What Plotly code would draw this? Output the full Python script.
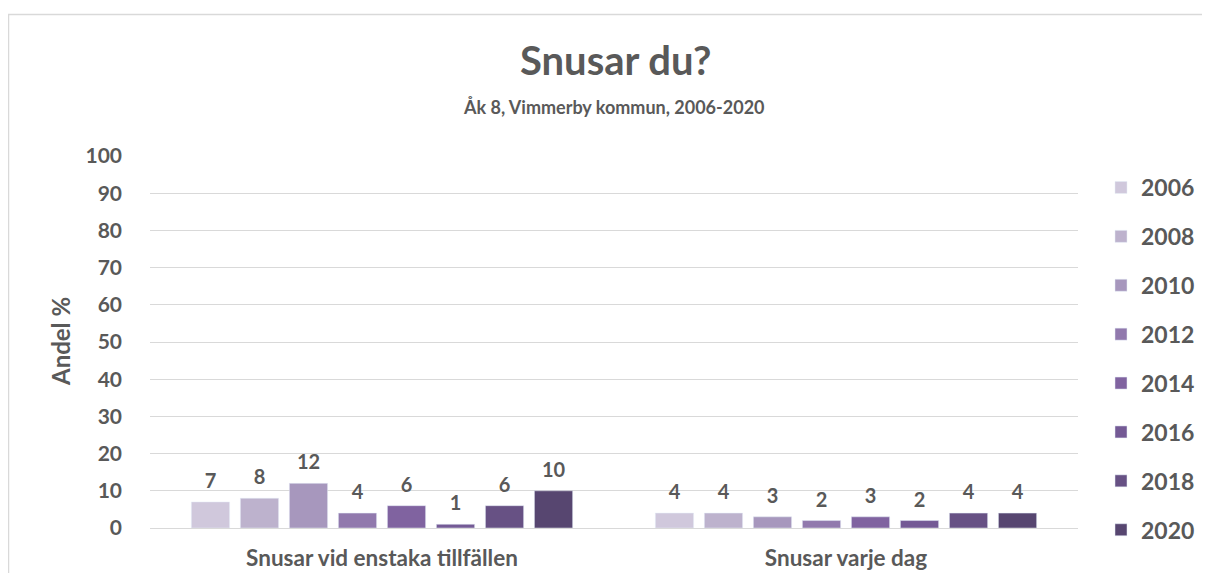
import plotly.graph_objects as go

categories = ["Snusar vid enstaka tillfällen", "Snusar varje dag"]
years = ["2006", "2008", "2010", "2012", "2014", "2016", "2018", "2020"]
values = {
    "2006": [7, 4],
    "2008": [8, 4],
    "2010": [12, 3],
    "2012": [4, 2],
    "2014": [6, 3],
    "2016": [1, 2],
    "2018": [6, 4],
    "2020": [10, 4],
}
colors = ["#d0c8dc", "#bdb2cd", "#a797bd", "#9179ad", "#8063a0", "#745a95", "#675184", "#574670"]
yticks = [0, 10, 20, 30, 40, 50, 60, 70, 80, 90, 100]

FONT = "Lato"
GREY = "#595959"
OFF = 8  # page body margin

fig = go.Figure()
for yr, col in zip(years, colors):
    fig.add_trace(go.Bar(
        x=categories, y=values[yr], name="<b>" + yr + "</b>", marker_color=col,
        offsetgroup=yr, alignmentgroup="a", legendgroup=yr,
    ))
for yr in years:
    fig.add_trace(go.Scatter(
        x=categories, y=values[yr], mode="text", showlegend=False,
        offsetgroup=yr, alignmentgroup="a", cliponaxis=False,
        text=values[yr], textposition="top center",
        texttemplate="<span style='font-size:20px;font-weight:bold'>%{text}</span>"
                     "<br><span style='color:rgba(0,0,0,0)'>.</span>",
        textfont=dict(family=FONT, size=9, color=GREY),
        hoverinfo="skip",
    ))

W, H = 1210 - 2 * OFF, 581 - 2 * OFF
L, T = 150 - OFF, 156 - OFF
pw, ph = 1078 - 150, 528 - 156
R, B = W - L - pw, H - T - ph


def px(xs):
    return (xs - OFF - L) / pw


def py(ys):
    return (T + ph - (ys - OFF)) / ph


fig.update_layout(
    width=W, height=H,
    margin=dict(l=L, r=R, t=T, b=B, autoexpand=False),
    paper_bgcolor="white", plot_bgcolor="white",
    barmode="group", bargap=0.155, bargroupgap=0.22,
    scattermode="group", scattergap=0.155,
    font=dict(family=FONT, color=GREY, size=18),
    showlegend=True,
    legend=dict(
        x=px(1101), xanchor="left", y=py(166), yanchor="top",
        font=dict(family=FONT, size=23, color=GREY),
        tracegroupgap=16, itemwidth=30, maxheight=440,
    ),
    xaxis=dict(
        tickvals=categories, ticktext=["<b>%s</b>" % c for c in categories],
        tickfont=dict(family=FONT, size=22.5, color=GREY),
        showline=False, ticks="", ticklabelstandoff=14,
    ),
    yaxis=dict(
        range=[0, 100], tickvals=yticks, ticktext=["<b>%d</b>" % v for v in yticks],
        tickfont=dict(family=FONT, size=21, color=GREY),
        showgrid=True, gridcolor="#d9d9d9", gridwidth=1,
        zeroline=True, zerolinecolor="#d9d9d9", zerolinewidth=1,
        ticks="", ticklen=0, ticklabelstandoff=27,
    ),
    annotations=[
        dict(text="<b>Snusar du?</b>", xref="paper", yref="paper",
             x=px(616), y=py(60), xanchor="center", yanchor="middle",
             showarrow=False, font=dict(family=FONT, size=40, color=GREY)),
        dict(text="<b>Åk 8, Vimmerby kommun, 2006-2020</b>", xref="paper", yref="paper",
             x=px(614), y=py(107), xanchor="center", yanchor="middle",
             showarrow=False, font=dict(family=FONT, size=18, color=GREY)),
        dict(text="<b>Andel %</b>", xref="paper", yref="paper",
             x=px(60), y=py(342), xanchor="center", yanchor="middle", textangle=-90,
             showarrow=False, font=dict(family=FONT, size=24, color=GREY)),
    ],
    shapes=[
        dict(type="rect", xref="paper", yref="paper",
             x0=px(8.5), x1=px(1230), y0=py(600), y1=py(14.5),
             line=dict(color="#d9d9d9", width=1.5), fillcolor="rgba(0,0,0,0)", layer="below"),
    ],
)

fig.write_html("out.html")
